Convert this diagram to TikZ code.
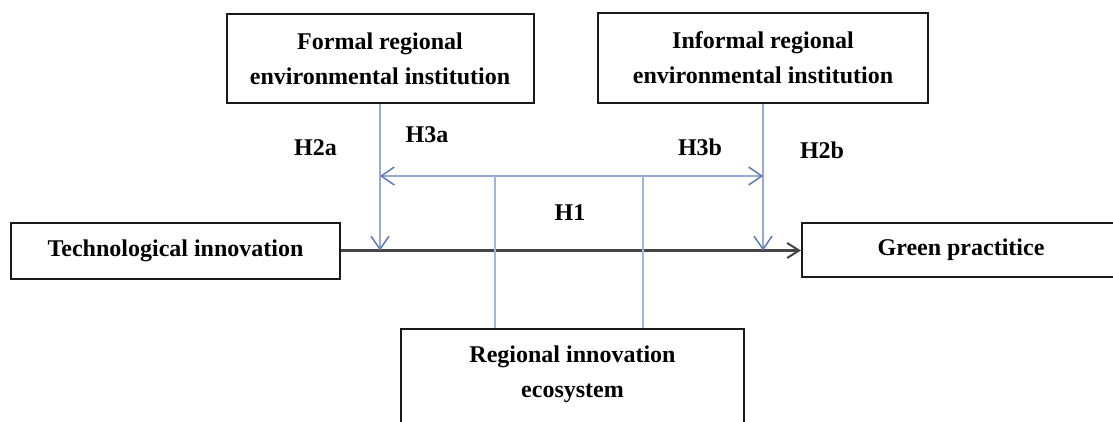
\documentclass[tikz,border=0pt]{standalone}
\usepackage{fontspec}
\setmainfont{Liberation Serif}
\usetikzlibrary{arrows.meta}
\definecolor{lineblue}{RGB}{150,170,212}
\definecolor{paleblue}{RGB}{160,180,222}
\definecolor{tipblue}{RGB}{90,122,184}
\definecolor{boxline}{RGB}{25,25,25}
\definecolor{mainline}{RGB}{70,70,70}
\begin{document}
\begin{tikzpicture}[x=1pt,y=-1pt,
  box/.style={draw=boxline, line width=2pt, fill=white, inner sep=0pt, align=center,
    font=\fontsize{24}{35}\selectfont\bfseries},
  txt/.style={inner sep=0pt, align=center, font=\fontsize{24}{35}\selectfont\bfseries},
  lbl/.style={inner sep=0pt, font=\fontsize{24}{28}\selectfont\bfseries},
  bline/.style={draw=lineblue, line width=1.2pt},
  pline/.style={draw=paleblue, line width=1.2pt},
  barrow/.style={bline, -{Straight Barb[length=13pt,width=18pt,line width=1.5pt,color=tipblue]}},
  bboth/.style={bline, {Straight Barb[length=13pt,width=18pt,line width=1.5pt,color=tipblue]}-{Straight Barb[length=13pt,width=18pt,line width=1.5pt,color=tipblue]}},
  mainarrow/.style={draw=mainline, line width=2.3pt, -{Straight Barb[length=12pt,width=15pt,line width=2pt]}}
]
\useasboundingbox (0,0) rectangle (1113,421);
\clip (0,0) rectangle (1113,421);

% boxes
\node[box, minimum width=307, minimum height=89] (formal) at (380,58.5) {Formal regional\\environmental institution};
\node[box, minimum width=330, minimum height=90] (informal) at (763,58) {Informal regional\\environmental institution};
\node[box, minimum width=329, minimum height=56] (tech) at (175.5,250.5) {Technological innovation};
\node[box, minimum width=318, minimum height=54] (green) at (961,249.5) {Green practitice};
\node[box, minimum width=343, minimum height=120, anchor=north] (reg) at (572.5,328) {};
\node[txt] (regtext) at (572.5,374.5) {Regional innovation\\ecosystem};

% coordinates
\coordinate (fdown) at (formal.south |- tech.east);
\coordinate (idown) at (informal.south |- tech.east);
\coordinate (hl) at (380,176);
\coordinate (hr) at (763,176);
\coordinate (r1) at (495,176);
\coordinate (r2) at (643,176);

% connectors
\draw[mainarrow] (tech.east) -- (tech.east -| green.west);
\draw[barrow] (formal.south) -- (fdown);
\draw[barrow] (informal.south) -- (idown);
\draw[bboth] (hl) -- (hr);
\draw[pline] (r1) -- (r1 |- reg.north);
\draw[pline] (r2) -- (r2 |- reg.north);

% labels
\node[lbl] (h2a) at (315.5,148) {H2a};
\node[lbl] (h3a) at (427,135) {H3a};
\node[lbl] (h3b) at (700,147) {H3b};
\node[lbl] (h2b) at (822,150) {H2b};
\node[lbl] (h1) at (570,213) {H1};
\end{tikzpicture}
\end{document}
